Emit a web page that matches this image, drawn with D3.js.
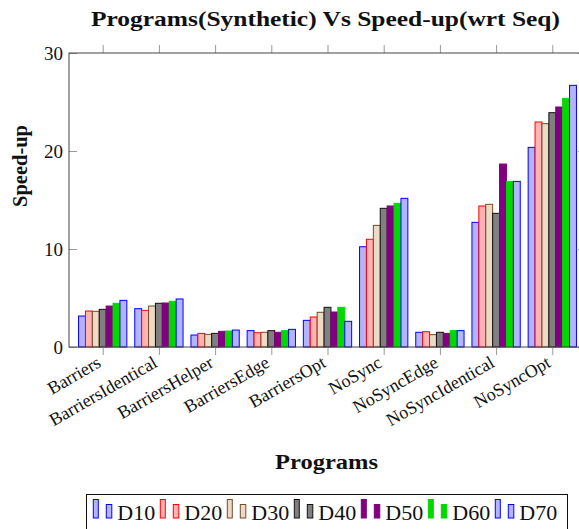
<!DOCTYPE html>
<html>
<head>
<meta charset="utf-8">
<script src="https://cdn.jsdelivr.net/npm/d3@7"></script>
<style>
  body { margin: 0; background: #fff; }
  svg { display: block; }
  text { font-family: "Liberation Serif", serif; fill: #111; }
</style>
</head>
<body>
<script>
// data
const programs = ['Barriers', 'BarriersIdentical', 'BarriersHelper', 'BarriersEdge',
  'BarriersOpt', 'NoSync', 'NoSyncEdge', 'NoSyncIdentical', 'NoSyncOpt'];
const seriesNames = ['D10', 'D20', 'D30', 'D40', 'D50', 'D60', 'D70'];
const d10 = [3.16, 3.91, 1.22, 1.67, 2.72, 10.23, 1.50, 12.72, 20.37];
const d20 = [3.67, 3.74, 1.39, 1.46, 3.06, 10.99, 1.56, 14.39, 22.96];
const d30 = [3.64, 4.18, 1.29, 1.50, 3.54, 12.41, 1.26, 14.56, 22.79];
const d40 = [3.84, 4.46, 1.39, 1.67, 4.05, 14.15, 1.50, 13.64, 23.91];
const d50 = [4.18, 4.49, 1.60, 1.50, 3.57, 14.39, 1.39, 18.67, 24.49];
const d60 = [4.46, 4.66, 1.63, 1.67, 4.05, 14.66, 1.67, 16.90, 25.37];
const d70 = [4.76, 4.90, 1.73, 1.80, 2.62, 15.17, 1.67, 16.90, 26.70];
const yTicks = [0, 10, 20, 30];

const seriesValues = [d10, d20, d30, d40, d50, d60, d70];
const fills = ['#b3b3ff', '#ffb3b3', '#ecd9c6', '#808080', '#800080', '#00d800', '#b3b3ff'];
const strokes = ['#0000ff', '#ff0000', '#734d26', '#111111', '#800080', '#00d800', '#0000ff'];

const width = 579;
const height = 529;
const plot = {left: 69, right: 586, top: 53, bottom: 347};
const barW = 6.9;

const svg = d3.select('body').append('svg')
    .attr('width', width)
    .attr('height', height);

const x = d3.scalePoint()
    .domain(programs)
    .range([102.7, 552.3]);

const y = d3.scaleLinear()
    .domain([0, 30])
    .range([plot.bottom, plot.top]);

// bars, one series after another
seriesNames.forEach((name, j) => {
  svg.append('g')
    .selectAll('rect')
    .data(seriesValues[j])
    .enter().append('rect')
      .attr('x', (d, i) => x(programs[i]) + (j - 3.5) * barW)
      .attr('y', d => y(d))
      .attr('width', barW)
      .attr('height', d => y(0) - y(d))
      .attr('fill', fills[j])
      .attr('stroke', strokes[j])
      .attr('stroke-width', 1);
});

// axes
const tickColor = '#999';

const leftAxis = svg.append('g')
    .attr('transform', `translate(${plot.left},0)`)
    .call(d3.axisLeft(y).tickValues(yTicks).tickSize(-8).tickPadding(6));
leftAxis.selectAll('text').attr('font-size', 19).attr('font-family', '"Liberation Serif", serif');

const rightAxis = svg.append('g')
    .attr('transform', `translate(${plot.right},0)`)
    .call(d3.axisRight(y).tickValues(yTicks).tickSize(-8).tickFormat(''));

const topAxis = svg.append('g')
    .attr('transform', `translate(0,${plot.top})`)
    .call(d3.axisTop(x).tickSize(8).tickFormat(''));

const bottomAxis = svg.append('g')
    .attr('transform', `translate(0,${plot.bottom})`)
    .call(d3.axisBottom(x).tickSize(8));
bottomAxis.selectAll('text')
    .attr('x', 0).attr('y', 0).attr('dy', 0)
    .attr('text-anchor', 'end')
    .attr('font-size', 18)
    .attr('font-family', '"Liberation Serif", serif')
    .attr('transform', 'translate(-1,19) rotate(-30)');

[leftAxis, rightAxis, topAxis, bottomAxis].forEach(g => {
  g.select('.domain').remove();
  g.selectAll('line').attr('stroke', tickColor);
  g.selectAll('text').attr('fill', '#111');
});

svg.append('rect')
    .attr('x', plot.left)
    .attr('y', plot.top)
    .attr('width', plot.right - plot.left)
    .attr('height', plot.bottom - plot.top)
    .attr('fill', 'none')
    .attr('stroke', '#444')
    .attr('stroke-width', 1);

// titles: stretched a little, the original face is wider than Times
svg.append('text')
    .attr('x', 325.5)
    .attr('y', 26)
    .attr('text-anchor', 'middle')
    .attr('font-weight', 'bold')
    .attr('font-size', 21)
    .attr('textLength', 469)
    .attr('lengthAdjust', 'spacingAndGlyphs')
    .text('Programs(Synthetic) Vs Speed-up(wrt Seq)');

svg.append('text')
    .attr('x', 326.5)
    .attr('y', 469)
    .attr('text-anchor', 'middle')
    .attr('font-weight', 'bold')
    .attr('font-size', 21)
    .attr('textLength', 103)
    .attr('lengthAdjust', 'spacingAndGlyphs')
    .text('Programs');

svg.append('text')
    .attr('transform', 'translate(27,166) rotate(-90)')
    .attr('text-anchor', 'middle')
    .attr('font-weight', 'bold')
    .attr('font-size', 21)
    .attr('textLength', 82)
    .attr('lengthAdjust', 'spacingAndGlyphs')
    .text('Speed-up');

// legend
const legend = svg.append('g');
legend.append('rect')
    .attr('x', 86.5)
    .attr('y', 494.5)
    .attr('width', 481)
    .attr('height', 45)
    .attr('fill', '#fff')
    .attr('stroke', '#111')
    .attr('stroke-width', 1);

const entry = legend.selectAll('g.entry')
    .data(seriesNames)
    .enter().append('g')
      .attr('class', 'entry')
      .attr('transform', (d, j) => `translate(${93.3 + j * 67},0)`);

entry.append('rect')
    .attr('x', 0).attr('y', 499.5)
    .attr('width', 5).attr('height', 18.5)
    .attr('fill', (d, j) => fills[j])
    .attr('stroke', (d, j) => strokes[j]);
entry.append('rect')
    .attr('x', 13).attr('y', 504.5)
    .attr('width', 5.5).attr('height', 13.5)
    .attr('fill', (d, j) => fills[j])
    .attr('stroke', (d, j) => strokes[j]);
entry.append('text')
    .attr('x', 24)
    .attr('y', 520)
    .attr('font-size', 22)
    .text(d => d);
</script>
</body>
</html>
